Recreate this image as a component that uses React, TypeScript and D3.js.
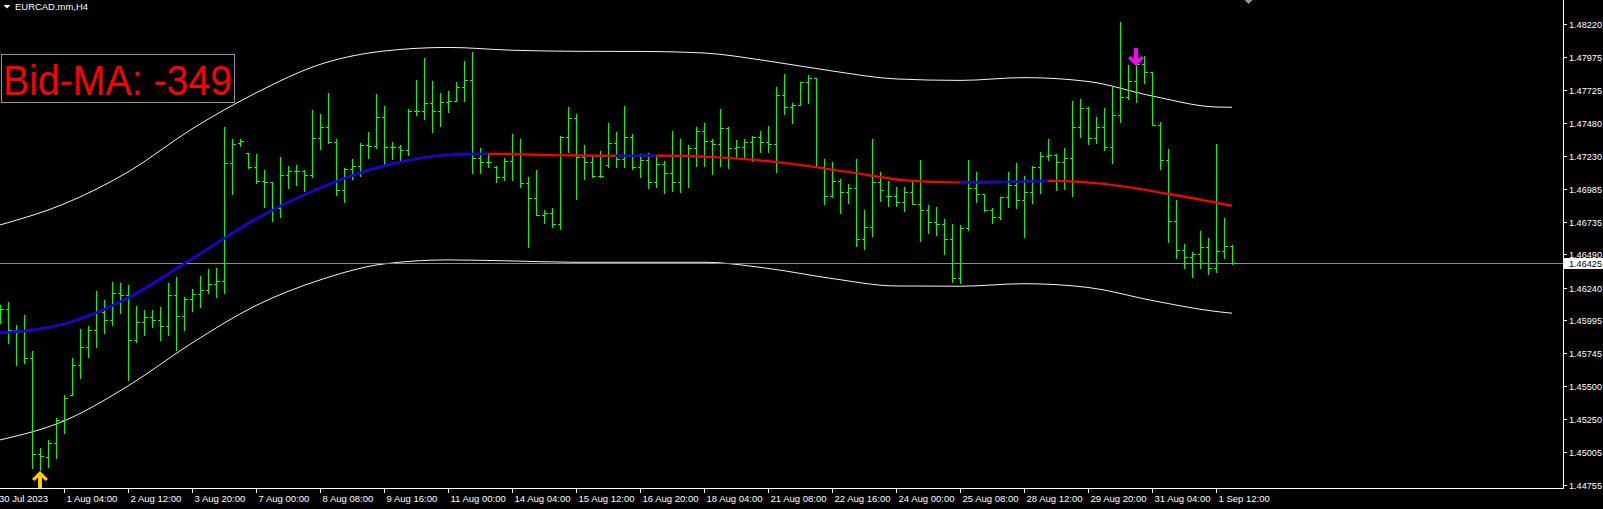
import React from 'react';
import * as d3 from 'd3';

const symbolTitle = 'EURCAD.mm,H4';
const infoText = 'Bid-MA: -349';
const currentPrice = 1.46425;

const timeLabels = [
  '30 Jul 2023', '1 Aug 04:00', '2 Aug 12:00', '3 Aug 20:00', '7 Aug 00:00', '8 Aug 08:00',
  '9 Aug 16:00', '11 Aug 00:00', '14 Aug 04:00', '15 Aug 12:00', '16 Aug 20:00', '18 Aug 04:00',
  '21 Aug 08:00', '22 Aug 16:00', '24 Aug 00:00', '25 Aug 08:00', '28 Aug 12:00', '29 Aug 20:00',
  '31 Aug 04:00', '1 Sep 12:00',
];

const priceTicks = [
  1.48220, 1.47975, 1.47725, 1.47480, 1.47230, 1.46985, 1.46735, 1.46490,
  1.46240, 1.45995, 1.45745, 1.45500, 1.45250, 1.45005, 1.44755,
];

const openPrices = [
  1.46034, 1.46079, 1.45921, 1.45914, 1.45711, 1.44988, 1.44966, 1.45071, 1.45244, 1.45432,
  1.45658, 1.45793, 1.45921, 1.46056, 1.45996, 1.46199, 1.46184, 1.45846, 1.45981, 1.46019,
  1.45996, 1.45951, 1.46184, 1.46026, 1.46154, 1.46192, 1.46222, 1.46267, 1.46290, 1.47177,
  1.47328, 1.47252, 1.47147, 1.47042, 1.47034, 1.46839, 1.47087, 1.47117, 1.47117, 1.47087,
  1.47365, 1.47448, 1.47335, 1.46974, 1.47132, 1.47155, 1.47312, 1.47305, 1.47523, 1.47297,
  1.47297, 1.47275, 1.47568, 1.47568, 1.47628, 1.47568, 1.47636, 1.47643, 1.47749, 1.47801,
  1.47215, 1.47185, 1.47147, 1.47072, 1.47192, 1.47245, 1.47027, 1.46914, 1.46786, 1.46801,
  1.46718, 1.47373, 1.47516, 1.47222, 1.47185, 1.47079, 1.47162, 1.47328, 1.47207, 1.47373,
  1.47147, 1.47200, 1.47034, 1.47170, 1.47102, 1.47034, 1.47237, 1.47290, 1.47418, 1.47343,
  1.47320, 1.47440, 1.47290, 1.47297, 1.47335, 1.47373, 1.47335, 1.47320, 1.47688, 1.47598,
  1.47613, 1.47786, 1.47816, 1.47147, 1.46929, 1.47042, 1.46959, 1.46989, 1.46606, 1.46696,
  1.47034, 1.46929, 1.46929, 1.46884, 1.46959, 1.46869, 1.46824, 1.46733, 1.46718, 1.46606,
  1.46312, 1.46688, 1.46989, 1.46944, 1.46824, 1.46771, 1.46922, 1.47012, 1.46899, 1.46959,
  1.47147, 1.47230, 1.47237, 1.47185, 1.47215, 1.47448, 1.47591, 1.47365, 1.47448, 1.47297,
  1.47538, 1.47673, 1.47794, 1.47922, 1.47862, 1.47463, 1.47200, 1.46741, 1.46523, 1.46470,
  1.46493, 1.46545, 1.46387, 1.46515, 1.46553,
];

const highPrices = [
  1.46109, 1.46132, 1.45959, 1.46034, 1.45763, 1.45033, 1.45094, 1.45259, 1.45432, 1.45711,
  1.45929, 1.45951, 1.46214, 1.46147, 1.46282, 1.46275, 1.46260, 1.46102, 1.46071, 1.46071,
  1.46094, 1.46275, 1.46320, 1.46169, 1.46229, 1.46327, 1.46380, 1.46387, 1.47448, 1.47358,
  1.47358, 1.47252, 1.47245, 1.47125, 1.47034, 1.47222, 1.47155, 1.47162, 1.47125, 1.47576,
  1.47546, 1.47704, 1.47358, 1.47140, 1.47207, 1.47328, 1.47410, 1.47696, 1.47606, 1.47335,
  1.47312, 1.47583, 1.47801, 1.47967, 1.47794, 1.47704, 1.47719, 1.47786, 1.47944, 1.48012,
  1.47290, 1.47237, 1.47155, 1.47215, 1.47395, 1.47358, 1.47072, 1.47125, 1.46824, 1.46839,
  1.47380, 1.47598, 1.47546, 1.47312, 1.47222, 1.47267, 1.47478, 1.47410, 1.47606, 1.47395,
  1.47245, 1.47252, 1.47222, 1.47192, 1.47418, 1.47358, 1.47312, 1.47448, 1.47478, 1.47358,
  1.47583, 1.47448, 1.47350, 1.47358, 1.47380, 1.47418, 1.47455, 1.47749, 1.47846, 1.47628,
  1.47786, 1.47839, 1.47816, 1.47207, 1.47185, 1.47057, 1.47019, 1.47207, 1.46824, 1.47358,
  1.47109, 1.47042, 1.46997, 1.46997, 1.47034, 1.47200, 1.46861, 1.46846, 1.46756, 1.46718,
  1.46711, 1.47200, 1.47109, 1.46944, 1.46839, 1.46922, 1.47109, 1.47177, 1.47079, 1.47155,
  1.47260, 1.47358, 1.47245, 1.47290, 1.47643, 1.47658, 1.47598, 1.47523, 1.47591, 1.47749,
  1.48238, 1.47914, 1.47922, 1.47982, 1.47862, 1.47485, 1.47282, 1.46899, 1.46568, 1.46508,
  1.46666, 1.46613, 1.47320, 1.46763, 1.46560,
];

const lowPrices = [
  1.45974, 1.45823, 1.45658, 1.45673, 1.44883, 1.44868, 1.44891, 1.44958, 1.45146, 1.45432,
  1.45560, 1.45718, 1.45793, 1.45899, 1.45959, 1.46049, 1.45545, 1.45831, 1.45883, 1.45944,
  1.45846, 1.45883, 1.45771, 1.45921, 1.46064, 1.46094, 1.46199, 1.46169, 1.46199, 1.46944,
  1.47305, 1.47140, 1.47027, 1.46846, 1.46741, 1.46771, 1.46989, 1.47012, 1.46967, 1.47072,
  1.47282, 1.47328, 1.46937, 1.46884, 1.47057, 1.47079, 1.47215, 1.47290, 1.47170, 1.47207,
  1.47192, 1.47237, 1.47538, 1.47508, 1.47410, 1.47455, 1.47561, 1.47643, 1.47643, 1.47102,
  1.47102, 1.47147, 1.47034, 1.47049, 1.47049, 1.46997, 1.46545, 1.46786, 1.46726, 1.46696,
  1.46681, 1.47260, 1.46907, 1.47057, 1.47072, 1.47072, 1.47147, 1.47147, 1.47147, 1.47132,
  1.47072, 1.46989, 1.46997, 1.46952, 1.46967, 1.46959, 1.46997, 1.47155, 1.47155, 1.47094,
  1.47155, 1.47140, 1.47215, 1.47215, 1.47192, 1.47260, 1.47260, 1.47109, 1.47546, 1.47478,
  1.47613, 1.47628, 1.47147, 1.46869, 1.46922, 1.46801, 1.46876, 1.46553, 1.46530, 1.46628,
  1.46891, 1.46854, 1.46854, 1.46816, 1.46869, 1.46590, 1.46651, 1.46636, 1.46493, 1.46282,
  1.46275, 1.46673, 1.46884, 1.46816, 1.46726, 1.46756, 1.46846, 1.46839, 1.46621, 1.46876,
  1.46952, 1.47200, 1.46974, 1.46982, 1.46929, 1.47373, 1.47320, 1.47328, 1.47275, 1.47177,
  1.47485, 1.47658, 1.47636, 1.47779, 1.47463, 1.47132, 1.46583, 1.46463, 1.46387, 1.46320,
  1.46387, 1.46342, 1.46357, 1.46463, 1.46418,
];

const closePrices = [
  1.46079, 1.45921, 1.45914, 1.45711, 1.44988, 1.44973, 1.45071, 1.45244, 1.45410, 1.45658,
  1.45793, 1.45921, 1.46056, 1.45996, 1.46199, 1.46184, 1.45846, 1.45981, 1.46019, 1.45996,
  1.45951, 1.46184, 1.46026, 1.46154, 1.46192, 1.46222, 1.46267, 1.46290, 1.47177, 1.47320,
  1.47343, 1.47147, 1.47042, 1.47034, 1.46839, 1.47087, 1.47117, 1.47117, 1.47087, 1.47365,
  1.47448, 1.47335, 1.46974, 1.47132, 1.47155, 1.47312, 1.47305, 1.47523, 1.47297, 1.47297,
  1.47275, 1.47568, 1.47568, 1.47628, 1.47568, 1.47636, 1.47643, 1.47749, 1.47801, 1.47215,
  1.47185, 1.47185, 1.47072, 1.47192, 1.47245, 1.47027, 1.46914, 1.46786, 1.46801, 1.46718,
  1.47373, 1.47516, 1.47222, 1.47185, 1.47079, 1.47079, 1.47328, 1.47207, 1.47373, 1.47147,
  1.47200, 1.47034, 1.47170, 1.47102, 1.47034, 1.47237, 1.47290, 1.47418, 1.47343, 1.47320,
  1.47440, 1.47290, 1.47297, 1.47335, 1.47373, 1.47335, 1.47320, 1.47688, 1.47598, 1.47613,
  1.47786, 1.47816, 1.47147, 1.46929, 1.47042, 1.46959, 1.46989, 1.46606, 1.46696, 1.47034,
  1.46974, 1.46929, 1.46884, 1.46959, 1.46869, 1.46824, 1.46733, 1.46718, 1.46606, 1.46312,
  1.46688, 1.46989, 1.46944, 1.46824, 1.46771, 1.46922, 1.47012, 1.46899, 1.46959, 1.47147,
  1.47230, 1.47237, 1.47185, 1.47215, 1.47448, 1.47591, 1.47365, 1.47448, 1.47297, 1.47538,
  1.47673, 1.47794, 1.47922, 1.47862, 1.47463, 1.47200, 1.46741, 1.46523, 1.46470, 1.46493,
  1.46545, 1.46387, 1.46515, 1.46553, 1.46425,
];

// Moving average, sampled at these bars
const maBars = [0, 8, 16, 24, 32, 40, 48, 56, 61, 70, 77, 82, 90, 98, 106, 114, 120, 126, 131, 138, 146, 154];
const maValues = [
  1.45899, 1.45966, 1.46162, 1.46455, 1.46756, 1.46989, 1.47155, 1.47237, 1.47245, 1.47235,
  1.47230, 1.47233, 1.47218, 1.47177, 1.47109, 1.47042, 1.47030, 1.47034, 1.47042, 1.47019,
  1.46944, 1.46854,
];

// Envelope bands, sampled at these bars
const bandBars = [0, 8, 16, 24, 32, 40, 48, 56, 64, 72, 80, 88, 96, 104, 112, 120, 128, 136, 144, 152, 154];
const upperBand = [
  1.46711, 1.46869, 1.47109, 1.47433, 1.47704, 1.47918, 1.48019, 1.48046, 1.48025, 1.48017,
  1.48016, 1.48004, 1.47944, 1.47869, 1.47809, 1.47798, 1.47819, 1.47790, 1.47681, 1.47598,
  1.47596,
];
const lowerBand = [
  1.45094, 1.45237, 1.45500, 1.45823, 1.46105, 1.46297, 1.46418, 1.46448, 1.46440, 1.46430,
  1.46430, 1.46430, 1.46384, 1.46308, 1.46252, 1.46250, 1.46269, 1.46241, 1.46143, 1.46060,
  1.46047,
];

const buySignalBar = 5;
const sellSignalBar = 142;

const W = 1603;
const H = 509;
const PLOT_RIGHT = 1563;
const PLOT_BOTTOM = 488;
const FONT = '"Liberation Sans", Arial, sans-serif';

export default function App() {
  const n = openPrices.length;
  const x = d3.scaleLinear().domain([0, n - 1]).range([0, (n - 1) * 8]);
  const y = d3.scaleLinear().domain([1.44755, 1.48220]).range([485, 24.3]);

  const lineGen = d3
    .line<[number, number]>()
    .x((d) => x(d[0]))
    .y((d) => y(d[1]))
    .curve(d3.curveMonotoneX);

  const maPath = lineGen(maBars.map((b, i) => [b, maValues[i]] as [number, number])) || '';
  const upperPath = lineGen(bandBars.map((b, i) => [b, upperBand[i]] as [number, number])) || '';
  const lowerPath = lineGen(bandBars.map((b, i) => [b, lowerBand[i]] as [number, number])) || '';

  // rising segments -> blue
  const risingRanges: [number, number][] = [];
  for (let i = 0; i < maBars.length - 1; i++) {
    if (maValues[i + 1] > maValues[i]) {
      const last = risingRanges[risingRanges.length - 1];
      if (last && last[1] === maBars[i]) last[1] = maBars[i + 1];
      else risingRanges.push([maBars[i], maBars[i + 1]]);
    }
  }

  const cy = (v: number) => Math.round(y(v)) + 0.5;
  const cpY = cy(currentPrice);

  const bx = x(buySignalBar);
  const by = Math.round(y(lowPrices[buySignalBar])) + 1;
  const sx = x(sellSignalBar);
  const sy = Math.round(y(highPrices[sellSignalBar])) + 2;

  return (
    <svg
      width={W}
      height={H}
      style={{ position: 'fixed', left: 0, top: 0, display: 'block', background: '#000' }}
    >
      <rect x={0} y={0} width={W} height={H} fill="#000" />
      <defs>
        {risingRanges.map((r, i) => (
          <clipPath id={`rise${i}`} key={i}>
            <rect x={x(r[0])} y={0} width={x(r[1]) - x(r[0])} height={H} />
          </clipPath>
        ))}
      </defs>

      {/* title */}
      <path d="M3.5,5 L10.5,5 L7,8.5 Z" fill="#fff" />
      <text x={15} y={10} fill="#fff" fontFamily={FONT} fontSize={9.5} textLength={73} lengthAdjust="spacingAndGlyphs">
        {symbolTitle}
      </text>

      {/* info box */}
      <rect x={1.5} y={54.5} width={233} height={48} fill="none" stroke="#8a97a8" strokeWidth={1} />
      <text x={3} y={95} fill="#ff0000" fontFamily={FONT} fontSize={43} textLength={229} lengthAdjust="spacingAndGlyphs">
        {infoText}
      </text>

      {/* chart shift marker */}
      <path d="M1244.5,0 L1252.5,0 L1248.5,4 Z" fill="#8a97a8" />

      {/* bands */}
      <path d={upperPath} fill="none" stroke="#f4f4f4" strokeWidth={1} />
      <path d={lowerPath} fill="none" stroke="#f4f4f4" strokeWidth={1} />

      {/* current price line */}
      <line x1={0} x2={PLOT_RIGHT} y1={cpY} y2={cpY} stroke="#8c8c8c" strokeWidth={1} shapeRendering="crispEdges" />

      {/* bars */}
      <g stroke="#00ff00" strokeWidth={1} shapeRendering="crispEdges">
        {openPrices.map((o, i) => {
          const px = Math.round(x(i)) + 0.5;
          const yh = Math.round(y(highPrices[i]));
          const yl = Math.round(y(lowPrices[i])) + 1;
          const yo = cy(o);
          const yc = cy(closePrices[i]);
          return (
            <g key={i}>
              <line x1={px} x2={px} y1={yh} y2={yl} />
              <line x1={px - 3} x2={px - 0.5} y1={yo} y2={yo} />
              <line x1={px + 0.5} x2={px + 3} y1={yc} y2={yc} />
            </g>
          );
        })}
      </g>

      {/* moving average */}
      <path d={maPath} fill="none" stroke="#ff0000" strokeWidth={2.2} />
      {risingRanges.map((r, i) => (
        <path key={i} d={maPath} fill="none" stroke="#0000ff" strokeWidth={2.2} clipPath={`url(#rise${i})`} />
      ))}

      {/* signals */}
      <path
        transform={`translate(${bx},${by})`}
        d="M0,0 L8,8 L5.5,10 L2,6.5 L2,18 L-2,18 L-2,6.5 L-5.5,10 L-8,8 Z"
        fill="#ffcc00"
      />
      <path
        transform={`translate(${sx},${sy})`}
        d="M0,0 L8,-8 L5.5,-10 L2,-6.5 L2,-18 L-2,-18 L-2,-6.5 L-5.5,-10 L-8,-8 Z"
        fill="#ff00ff"
      />

      {/* axes */}
      <line x1={PLOT_RIGHT + 0.5} x2={PLOT_RIGHT + 0.5} y1={0} y2={PLOT_BOTTOM + 1} stroke="#fff" shapeRendering="crispEdges" />
      <line x1={0} x2={PLOT_RIGHT + 1} y1={PLOT_BOTTOM + 0.5} y2={PLOT_BOTTOM + 0.5} stroke="#fff" shapeRendering="crispEdges" />

      {priceTicks.map((p) => {
        const ty = cy(p);
        return (
          <g key={p}>
            <line x1={PLOT_RIGHT} x2={PLOT_RIGHT + 4} y1={ty} y2={ty} stroke="#fff" shapeRendering="crispEdges" />
            <text x={1569} y={ty + 3.5} fill="#fff" fontFamily={FONT} fontSize={9.5} textLength={33} lengthAdjust="spacingAndGlyphs">
              {p.toFixed(5)}
            </text>
          </g>
        );
      })}

      {/* current price label */}
      <rect x={1564} y={cpY - 5.5} width={39} height={11} fill="#fff" />
      <text x={1569} y={cpY + 3.5} fill="#000" fontFamily={FONT} fontSize={9.5} textLength={33} lengthAdjust="spacingAndGlyphs">
        {currentPrice.toFixed(5)}
      </text>

      {timeLabels.map((t, k) => {
        const tx = Math.round(x(k * 8)) + 0.5;
        return (
          <g key={t}>
            {k > 0 && (
              <line x1={tx} x2={tx} y1={PLOT_BOTTOM} y2={PLOT_BOTTOM + 5} stroke="#fff" shapeRendering="crispEdges" />
            )}
            <text x={k === 0 ? -1 : tx + 2} y={502} fill="#fff" fontFamily={FONT} fontSize={9.5}>
              {t}
            </text>
          </g>
        );
      })}
    </svg>
  );
}
